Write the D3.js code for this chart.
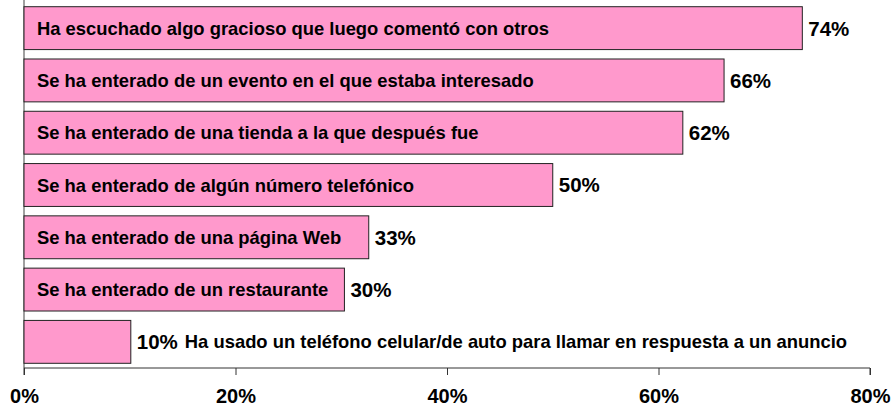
<!DOCTYPE html>
<html>
  <head>
    <meta charset="utf-8" />
    <style>
      body { margin: 0; background: #fff; }
      text { font-family: "Liberation Sans", Arial, sans-serif; font-weight: bold; fill: #000; }
    </style>
  </head>
  <body>

<svg id="graph"></svg>

<script src="https://cdn.jsdelivr.net/npm/d3@7"></script>
<script>
const WIDTH = 894
const HEIGHT = 409

// categories, top to bottom
const CATEGORIES = [
  'Ha escuchado algo gracioso que luego comentó con otros',
  'Se ha enterado de un evento en el que estaba interesado',
  'Se ha enterado de una tienda a la que después fue',
  'Se ha enterado de algún número telefónico',
  'Se ha enterado de una página Web',
  'Se ha enterado de un restaurante',
  'Ha usado un teléfono celular/de auto para llamar en respuesta a un anuncio',
]
// percent values
const VALUES = [73.6, 66.2, 62.3, 50.0, 32.6, 30.3, 10.1]
// labels printed next to the bars
const VALUE_LABELS = ['74%', '66%', '62%', '50%', '33%', '30%', '10%']
// x axis ticks
const TICKS = [0, 20, 40, 60, 80]

const LEFT = 24
const RIGHT = 870
const TOP = 2
const AXIS_Y = 368

const svg = d3.select('#graph')
  .attr('width', WIDTH)
  .attr('height', HEIGHT)

const x = d3.scaleLinear()
  .domain([0, 80])
  .range([LEFT, RIGHT])

const y = d3.scaleBand()
  .domain(CATEGORIES)
  .range([TOP, AXIS_Y])
  .paddingInner(0.18)
  .paddingOuter(0.09)

// vertical axis line
svg.append('line')
  .attr('x1', LEFT).attr('x2', LEFT)
  .attr('y1', 0).attr('y2', AXIS_Y)
  .attr('stroke', '#808080')
  .attr('stroke-width', 1.5)

// bars
svg.selectAll('rect.bar')
  .data(CATEGORIES)
  .enter()
    .append('rect')
    .attr('class', 'bar')
    .attr('x', x(0))
    .attr('y', d => y(d))
    .attr('width', (d, i) => x(VALUES[i]) - x(0))
    .attr('height', y.bandwidth())
    .attr('fill', '#FF99CC')
    .attr('stroke', '#222')
    .attr('stroke-width', 1)

// value labels
const valueText = svg.selectAll('text.value')
  .data(CATEGORIES)
  .enter()
    .append('text')
    .attr('class', 'value')
    .attr('x', (d, i) => x(VALUES[i]) + 6)
    .attr('y', d => y(d) + y.bandwidth() / 2)
    .attr('dy', '0.36em')
    .style('font-size', '20.5px')
    .text((d, i) => VALUE_LABELS[i])

// category labels: inside the bar if it fits, else after the value label
svg.selectAll('text.cat')
  .data(CATEGORIES)
  .enter()
    .append('text')
    .attr('class', 'cat')
    .attr('y', d => y(d) + y.bandwidth() / 2)
    .attr('dy', '0.36em')
    .style('font-size', '18.4px')
    .text(d => d)
    .each(function (d, i) {
      const w = this.getComputedTextLength()
      const inside = x(0) + 13
      if (inside + w + 8 < x(VALUES[i])) {
        d3.select(this).attr('x', inside)
      } else {
        const vw = valueText.nodes()[i].getComputedTextLength()
        d3.select(this).attr('x', x(VALUES[i]) + 6 + vw + 7)
      }
    })

// x axis
const axisX = d3.axisBottom(x)
  .tickValues(TICKS)
  .tickSize(7)
  .tickPadding(14)
  .tickFormat(d => `${d}%`)

const axisGroup = svg.append('g')
  .attr('transform', `translate(0, ${AXIS_Y})`)
  .call(axisX)

axisGroup.select('.domain')
  .attr('stroke', '#333')
  .attr('d', `M${LEFT},7V0H${RIGHT}V7`)
axisGroup.selectAll('.tick line').attr('stroke', '#333')
axisGroup.selectAll('.tick text')
  .style('font-size', '20px')
  .style('font-family', '"Liberation Sans", Arial, sans-serif')
  .style('font-weight', 'bold')
  .attr('fill', '#000')
</script>
  </body>
</html>
